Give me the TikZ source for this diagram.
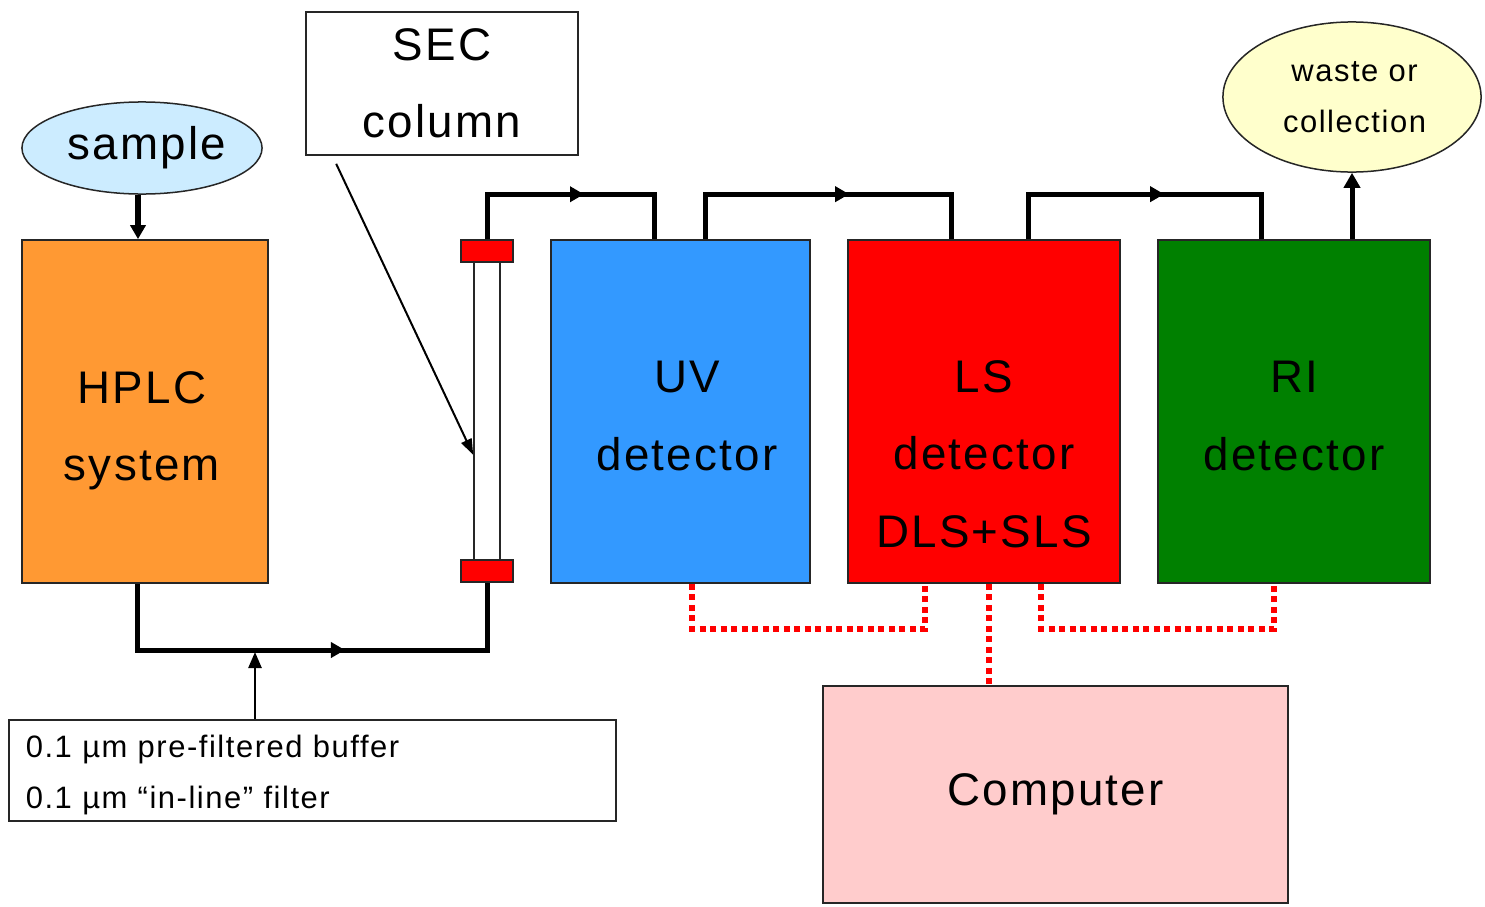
\documentclass[tikz,border=0pt]{standalone}
\usepackage{fontspec}
\setmainfont{Liberation Sans}[LetterSpace=5]
\usetikzlibrary{calc,shapes.geometric,arrows.meta}

\definecolor{sampleblue}{RGB}{204,236,255}
\definecolor{hplcorange}{RGB}{255,153,51}
\definecolor{uvblue}{RGB}{51,153,255}
\definecolor{rigreen}{RGB}{0,128,0}
\definecolor{wasteyellow}{RGB}{255,255,204}
\definecolor{pcpink}{RGB}{255,204,204}

\tikzset{
	box/.style={draw=black!85, line width=0.15mm, inner sep=0},
	big/.style={font=\fontsize{13}{22}\selectfont, align=center, inner sep=0},
	small/.style={font=\fontsize{8.8}{14.4}\selectfont},
	flow/.style={line width=0.5mm},
	flowtip/.style={-{Triangle[length=1.4mm,width=1.5mm]}},
	signal/.style={red, line width=0.65mm, dash pattern=on 0.6mm off 0.45mm},
}

\begin{document}
\begin{tikzpicture}[x=0.01cm, y=-0.01cm]
		%%%%% START %%%%%
		\useasboundingbox (0,0) rectangle (1485,906);
		
		\node[ellipse, box, fill=sampleblue, minimum width=2.4cm, minimum height=0.92cm, big] (sample) at (142,148) {\hspace{0.1cm}sample};
		\node[box, fill=hplcorange, minimum width=2.46cm, minimum height=3.43cm] (hplc) at (145,411.5) {};
		\node[big] (hplctext) at (142,431) {HPLC\\system};
		
		\node[box, fill=white, minimum width=2.72cm, minimum height=1.43cm, big] (sec) at (442,83.5) {SEC\\column};
		\node[box, fill=white, minimum width=0.26cm, minimum height=2.98cm] (tube) at (487,411) {};
		\node[box, fill=red, minimum width=0.52cm, minimum height=0.22cm] (captop) at (487,251) {};
		\node[box, fill=red, minimum width=0.52cm, minimum height=0.22cm] (capbot) at (487,571) {};
		
		\node[box, fill=uvblue, minimum width=2.59cm, minimum height=3.43cm] (uv) at (680.5,411.5) {};
		\node[big] (uvtext) at (687,416) {UV\\detector};
		\node[box, fill=red, minimum width=2.72cm, minimum height=3.43cm] (ls) at (984,411.5) {};
		\node[big] (lstext) at (984,454) {LS\\detector\\DLS+SLS};
		\node[box, fill=rigreen, minimum width=2.72cm, minimum height=3.43cm] (ri) at (1294,411.5) {};
		\node[big] (ritext) at (1294,416) {RI\\detector};
		
		\node[ellipse, box, fill=wasteyellow, minimum width=2.58cm, minimum height=1.5cm, small, align=center] (waste) at (1352,97) {\hspace{0.05cm}waste or\\\hspace{0.05cm}collection};
		\node[box, fill=pcpink, minimum width=4.65cm, minimum height=2.17cm, big] (pc) at (1055.5,794.5) {Computer};
		\node[box, fill=white, small, align=left, text width=5.73cm, inner xsep=0.17cm, minimum height=1.01cm] (buffer) at (312.5,770.5) {\rule{0pt}{0.31cm}0.1 µm pre-filtered buffer\\0.1 µm “in-line” filter};
		
		% ports
		\coordinate (mix) at (255,650);
		\coordinate (uvin) at ($(uv.north west)+(104,0)$);
		\coordinate (uvout) at ($(uv.north west)+(155,0)$);
		\coordinate (lsin) at ($(ls.north west)+(104,0)$);
		\coordinate (lsout) at ($(ls.north west)+(181,0)$);
		\coordinate (riin) at ($(ri.north west)+(104,0)$);
		\coordinate (uvsig) at ($(uv.south west)+(142,0)$);
		\coordinate (lssigl) at ($(ls.south west)+(78,0)$);
		\coordinate (lssigc) at ($(ls.south west)+(142,0)$);
		\coordinate (lssigr) at ($(ls.south west)+(194,0)$);
		\coordinate (risig) at ($(ri.south west)+(117,0)$);
		
		% flow
		\draw[flow, flowtip] ([xshift=-0.04cm]sample.south) -- ([xshift=-0.04cm]hplc.north -| sample.south);
		\draw[flow] ([xshift=-0.07cm]hplc.south) |- (mix) -| (capbot.south);
		\draw[flow, flowtip] (mix) -- ++(90,0);
		\draw[line width=0.25mm, -{Triangle[length=1.6mm,width=1.3mm]}] (buffer.north -| mix) -- ([yshift=-0.02cm]mix);
		\draw[line width=0.2mm, -{Triangle[length=1.6mm,width=1.1mm]}] ($(sec.south west)+(31,8)$) -- ($(tube.west)+(0,44)$);
		
		\draw[flow] (captop.north) -- ++(0,-45) -| (uvin);
		\draw[flow, flowtip] ($(captop.north)+(0,-45)$) -- ++(97,0);
		\draw[flow] (uvout) -- ++(0,-45) -| (lsin);
		\draw[flow, flowtip] ($(uvout)+(0,-45)$) -- ++(144,0);
		\draw[flow] (lsout) -- ++(0,-45) -| (riin);
		\draw[flow, flowtip] ($(lsout)+(0,-45)$) -- ++(136,0);
		\draw[line width=0.5mm, -{Triangle[length=1.5mm,width=1.6mm]}] (ri.north -| waste.south) -- (waste.south);
		
		% signal cables
		\draw[signal] (uvsig) -- ++(0,45) -| (lssigl);
		\draw[signal] (lssigc) -- (lssigc |- pc.north);
		\draw[signal] (lssigr) -- ++(0,45) -| (risig);
		
		%%%%% END %%%%%
	\end{tikzpicture}
\end{document}
